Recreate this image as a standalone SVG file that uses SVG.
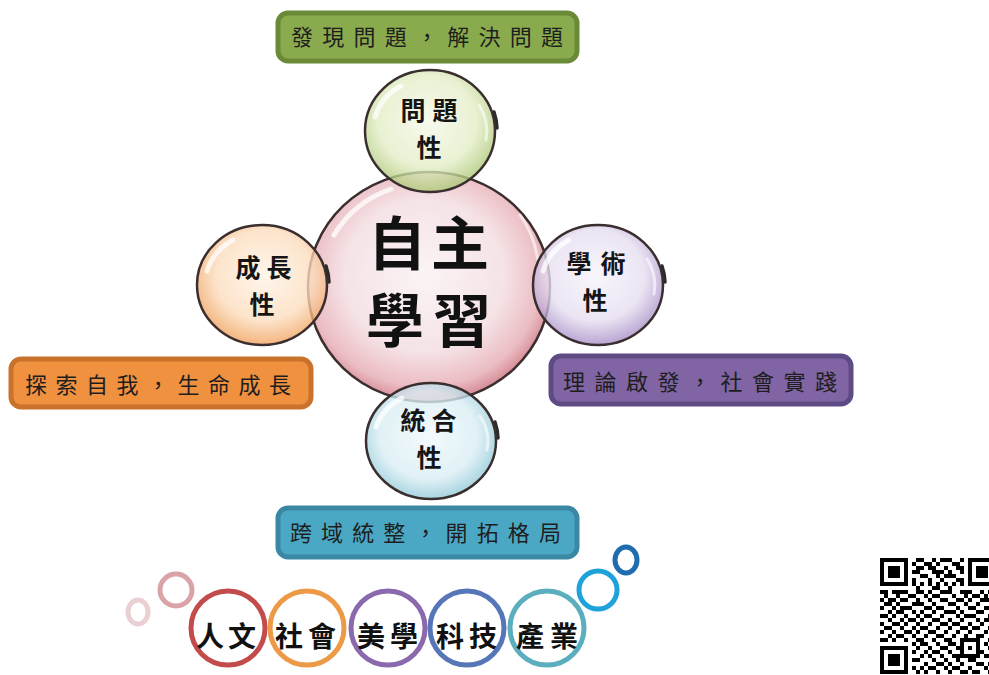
<svg xmlns="http://www.w3.org/2000/svg" width="989" height="675" viewBox="0 0 989 675">
<defs>
<radialGradient id="gMain" cx="48%" cy="45%" r="55%">
<stop offset="0" stop-color="#fbf4f5"/><stop offset="0.6" stop-color="#f5e3e6"/><stop offset="0.88" stop-color="#ebbcc3"/><stop offset="1" stop-color="#d68e98"/>
</radialGradient>
<radialGradient id="gGreen" cx="48%" cy="42%" r="58%">
<stop offset="0" stop-color="#f5f8e8"/><stop offset="0.65" stop-color="#e3edc6"/><stop offset="1" stop-color="#a9c672"/>
</radialGradient>
<radialGradient id="gOrange" cx="52%" cy="42%" r="58%">
<stop offset="0" stop-color="#fff3e6"/><stop offset="0.65" stop-color="#fcdcbc"/><stop offset="1" stop-color="#f0a05a"/>
</radialGradient>
<radialGradient id="gPurple" cx="48%" cy="42%" r="58%">
<stop offset="0" stop-color="#f6f3fa"/><stop offset="0.65" stop-color="#e6def0"/><stop offset="1" stop-color="#a58cc6"/>
</radialGradient>
<radialGradient id="gBlue" cx="48%" cy="45%" r="58%">
<stop offset="0" stop-color="#f0f8fb"/><stop offset="0.65" stop-color="#d8edf3"/><stop offset="1" stop-color="#84c2d4"/>
</radialGradient>
</defs>
<style>
.bub{stroke:#3a2e2e;stroke-width:2.5}
.sm{fill-opacity:0.78}
.hl{fill:none;stroke:#ffffff;stroke-width:5;stroke-linecap:round;opacity:0.75}
.hl2{fill:none;stroke:#ffffff;stroke-width:3;stroke-linecap:round;opacity:0.6}
.sh{fill:none;stroke:#2b2b2b;stroke-width:3.5;stroke-linecap:round}
.big{font-family:"Noto Sans CJK TC","Noto Sans CJK SC",sans-serif;font-weight:700;fill:#111;font-size:58px;text-anchor:middle}
.mid{font-family:"Noto Sans CJK TC","Noto Sans CJK SC",sans-serif;font-weight:700;fill:#151515;font-size:25px;text-anchor:middle}
.box{stroke-width:5}
.bt{font-family:"Noto Sans CJK TC","Noto Sans CJK SC",sans-serif;font-weight:400;fill:#1e1e1e;font-size:22px}
.ring{fill:none;stroke-width:5}
.rt{font-family:"Noto Sans CJK TC","Noto Sans CJK SC",sans-serif;font-weight:700;fill:#111;font-size:28px;text-anchor:middle}
.qr{fill:#000}
</style>
<rect width="989" height="675" fill="#ffffff"/>

<g id="connectors"/>

<g id="box-problem">
<rect class="box" x="278" y="13" width="299" height="48" rx="10" fill="#8aab4d" stroke="#6b8a38"/>
<text class="bt" x="291" y="45" textLength="272" lengthAdjust="spacing">發現問題，解決問題</text>
</g>
<g id="box-growth">
<rect class="box" x="11" y="359" width="300" height="48" rx="10" fill="#f0913f" stroke="#c8722b"/>
<text class="bt" x="25" y="393" textLength="266" lengthAdjust="spacing">探索自我，生命成長</text>
</g>
<g id="box-academic">
<rect class="box" x="551" y="356" width="300" height="48" rx="10" fill="#8064a4" stroke="#5e4a84"/>
<text class="bt" x="563" y="390" textLength="274" lengthAdjust="spacing">理論啟發，社會實踐</text>
</g>
<g id="box-integration">
<rect class="box" x="278" y="508" width="299" height="49" rx="10" fill="#4aa8c4" stroke="#3a88a3"/>
<text class="bt" x="290" y="541" textLength="271" lengthAdjust="spacing">跨域統整，開拓格局</text>
</g>

<g id="node-main">
<ellipse class="bub" cx="429" cy="287" rx="121" ry="115" fill="url(#gMain)"/>
<path class="hl" d="M334 235 A110 104 0 0 1 391 189"/>
<path class="hl2" d="M520 215 A110 104 0 0 1 538 262"/>
<text class="big"><tspan x="397 460" y="265">自主</tspan><tspan x="395 462" y="342">學習</tspan></text>
</g>

<g id="node-problem">
<path class="sh" d="M494 112 A67 61 0 0 1 497 128"/>
<ellipse class="bub sm" cx="430" cy="131" rx="65" ry="61" fill="url(#gGreen)"/>
<path class="hl" d="M375 117 A57 52 0 0 1 401 86"/>
<path class="hl2" d="M479 105 A57 52 0 0 1 486 140"/>
<text class="mid"><tspan x="413 445" y="120">問題</tspan><tspan x="429" y="157">性</tspan></text>
</g>

<g id="node-growth">
<path class="sh" d="M326 266 A67 61 0 0 1 329 282"/>
<ellipse class="bub sm" cx="262" cy="285" rx="65" ry="60" fill="url(#gOrange)"/>
<path class="hl" d="M207 271 A57 52 0 0 1 233 240"/>
<text class="mid"><tspan x="248 279" y="277">成長</tspan><tspan x="262" y="314">性</tspan></text>
</g>

<g id="node-academic">
<path class="sh" d="M662 266 A67 61 0 0 1 665 282"/>
<ellipse class="bub sm" cx="598" cy="285" rx="65" ry="60" fill="url(#gPurple)"/>
<path class="hl" d="M543 271 A57 52 0 0 1 569 240"/>
<path class="hl2" d="M647 259 A57 52 0 0 1 654 294"/>
<text class="mid"><tspan x="579 613" y="273">學術</tspan><tspan x="595" y="310">性</tspan></text>
</g>

<g id="node-integration">
<path class="sh" d="M495 422 A67 61 0 0 1 498 438"/>
<ellipse class="bub sm" cx="431" cy="441" rx="65" ry="58" fill="url(#gBlue)"/>
<path class="hl" d="M376 427 A57 50 0 0 1 402 398"/>
<path class="hl2" d="M480 416 A57 50 0 0 1 487 450"/>
<text class="mid"><tspan x="413 444" y="430">統合</tspan><tspan x="429" y="467">性</tspan></text>
</g>

<g id="deco-bubbles">
<ellipse class="ring" cx="138" cy="612" rx="10" ry="12" stroke="#ead0d2" stroke-width="4"/>
<circle class="ring" cx="176" cy="590" r="16" stroke="#d9a3a8"/>
<circle class="ring" cx="598" cy="590" r="19" stroke="#1ea2da"/>
<ellipse class="ring" cx="626" cy="560" rx="11" ry="13" stroke="#1f6db0"/>
</g>

<g id="node-humanities">
<circle class="ring" cx="228" cy="628" r="37" stroke="#c24b4b"/>
<text class="rt" x="210 242" y="647">人文</text>
</g>
<g id="node-society">
<circle class="ring" cx="307" cy="628" r="37" stroke="#ec9a45"/>
<text class="rt" x="289 322" y="647">社會</text>
</g>
<g id="node-aesthetics">
<circle class="ring" cx="388" cy="628" r="37" stroke="#8a6aac"/>
<text class="rt" x="371 404" y="647">美學</text>
</g>
<g id="node-technology">
<circle class="ring" cx="467" cy="628" r="37" stroke="#5676b8"/>
<text class="rt" x="450 483" y="647">科技</text>
</g>
<g id="node-industry">
<circle class="ring" cx="547" cy="628" r="37" stroke="#5aaebd"/>
<text class="rt" x="530 564" y="647">產業</text>
</g>

<g id="qr-code">
<rect x="880" y="558" width="28" height="28" fill="#000"/><rect x="884" y="562" width="20" height="20" fill="#fff"/><rect x="888" y="566" width="12" height="12" fill="#000"/>
<rect x="968" y="558" width="28" height="28" fill="#000"/><rect x="972" y="562" width="20" height="20" fill="#fff"/><rect x="976" y="566" width="12" height="12" fill="#000"/>
<rect x="880" y="646" width="28" height="28" fill="#000"/><rect x="884" y="650" width="20" height="20" fill="#fff"/><rect x="888" y="654" width="12" height="12" fill="#000"/>
<path class="qr" d="M916 558h8v4h-8zM932 558h4v4h-4zM940 558h12v4h-12zM960 558h4v4h-4z
M912 562h4v4h-4zM924 562h8v4h-8zM936 562h4v4h-4zM952 562h8v4h-8z
M916 566h8v4h-8zM928 566h8v4h-8zM944 566h4v4h-4zM956 566h8v4h-8z
M912 570h8v4h-8zM932 570h12v4h-12zM948 570h4v4h-4zM960 570h4v4h-4z
M920 574h8v4h-8zM936 574h4v4h-4zM944 574h12v4h-12z
M912 578h4v4h-4zM928 578h4v4h-4zM940 578h4v4h-4zM956 578h8v4h-8z
M912 582h4v4h-4zM920 582h4v4h-4zM928 582h4v4h-4zM936 582h4v4h-4zM944 582h4v4h-4zM952 582h4v4h-4zM960 582h4v4h-4z
M916 586h4v4h-4zM932 586h8v4h-8zM948 586h4v4h-4z
M880 590h8v4h-8zM892 590h16v4h-16zM916 590h8v4h-8zM928 590h4v4h-4zM940 590h12v4h-12zM960 590h12v4h-12zM980 590h4v4h-4zM988 590h8v4h-8z
M884 594h4v4h-4zM896 594h4v4h-4zM908 594h8v4h-8zM924 594h4v4h-4zM932 594h8v4h-8zM952 594h4v4h-4zM964 594h4v4h-4zM972 594h8v4h-8zM984 594h4v4h-4z
M880 598h4v4h-4zM888 598h8v4h-8zM900 598h8v4h-8zM916 598h4v4h-4zM928 598h4v4h-4zM940 598h8v4h-8zM956 598h8v4h-8zM968 598h4v4h-4zM980 598h12v4h-12z
M884 602h8v4h-8zM896 602h4v4h-4zM912 602h12v4h-12zM932 602h4v4h-4zM948 602h8v4h-8zM964 602h4v4h-4zM976 602h4v4h-4zM992 602h4v4h-4z
M880 606h4v4h-4zM892 606h4v4h-4zM900 606h12v4h-12zM924 606h8v4h-8zM936 606h8v4h-8zM956 606h4v4h-4zM968 606h8v4h-8zM984 606h8v4h-8z
M888 610h4v4h-4zM896 610h8v4h-8zM912 610h4v4h-4zM920 610h4v4h-4zM932 610h4v4h-4zM944 610h12v4h-12zM960 610h4v4h-4zM976 610h8v4h-8zM992 610h4v4h-4z
M880 614h8v4h-8zM892 614h4v4h-4zM904 614h4v4h-4zM916 614h4v4h-4zM924 614h8v4h-8zM940 614h4v4h-4zM956 614h4v4h-4zM964 614h12v4h-12zM988 614h4v4h-4z
M888 618h4v4h-4zM900 618h4v4h-4zM908 618h8v4h-8zM920 618h4v4h-4zM932 618h8v4h-8zM948 618h4v4h-4zM960 618h4v4h-4zM976 618h4v4h-4zM984 618h12v4h-12z
M880 622h4v4h-4zM892 622h8v4h-8zM904 622h4v4h-4zM916 622h4v4h-4zM928 622h4v4h-4zM940 622h8v4h-8zM952 622h8v4h-8zM968 622h4v4h-4zM980 622h4v4h-4z
M884 626h8v4h-8zM900 626h4v4h-4zM912 626h4v4h-4zM920 626h8v4h-8zM936 626h4v4h-4zM948 626h4v4h-4zM960 626h8v4h-8zM972 626h8v4h-8zM988 626h8v4h-8z
M880 630h4v4h-4zM892 630h4v4h-4zM904 630h8v4h-8zM916 630h4v4h-4zM928 630h8v4h-8zM944 630h4v4h-4zM956 630h4v4h-4zM968 630h4v4h-4zM984 630h4v4h-4z
M888 634h4v4h-4zM896 634h8v4h-8zM912 634h4v4h-4zM924 634h4v4h-4zM936 634h8v4h-8zM952 634h4v4h-4zM964 634h4v4h-4zM976 634h8v4h-8zM992 634h4v4h-4z
M880 638h8v4h-8zM892 638h4v4h-4zM904 638h4v4h-4zM916 638h8v4h-8zM932 638h4v4h-4zM944 638h8v4h-8zM988 638h4v4h-4z
M912 642h4v4h-4zM920 642h8v4h-8zM936 642h4v4h-4zM948 642h8v4h-8zM984 642h4v4h-4z
M916 646h4v4h-4zM928 646h4v4h-4zM940 646h8v4h-8zM956 646h4v4h-4zM988 646h8v4h-8z
M912 650h4v4h-4zM924 650h4v4h-4zM932 650h8v4h-8zM948 650h4v4h-4zM980 650h4v4h-4z
M920 654h4v4h-4zM928 654h4v4h-4zM940 654h4v4h-4zM952 654h8v4h-8zM984 654h8v4h-8z
M912 658h8v4h-8zM932 658h4v4h-4zM944 658h4v4h-4zM956 658h4v4h-4zM968 658h8v4h-8zM992 658h4v4h-4z
M924 662h4v4h-4zM936 662h8v4h-8zM948 662h4v4h-4zM960 662h4v4h-4zM976 662h8v4h-8zM988 662h4v4h-4z
M912 666h4v4h-4zM920 666h4v4h-4zM928 666h8v4h-8zM944 666h4v4h-4zM952 666h8v4h-8zM968 666h4v4h-4zM984 666h4v4h-4z
M916 670h4v4h-4zM924 670h4v4h-4zM936 670h4v4h-4zM948 670h4v4h-4zM960 670h8v4h-8zM972 670h8v4h-8zM988 670h8v4h-8z"/>
<rect x="960" y="638" width="20" height="20" fill="#000"/><rect x="964" y="642" width="12" height="12" fill="#fff"/><rect x="968" y="646" width="4" height="4" fill="#000"/>
</g>
</svg>
